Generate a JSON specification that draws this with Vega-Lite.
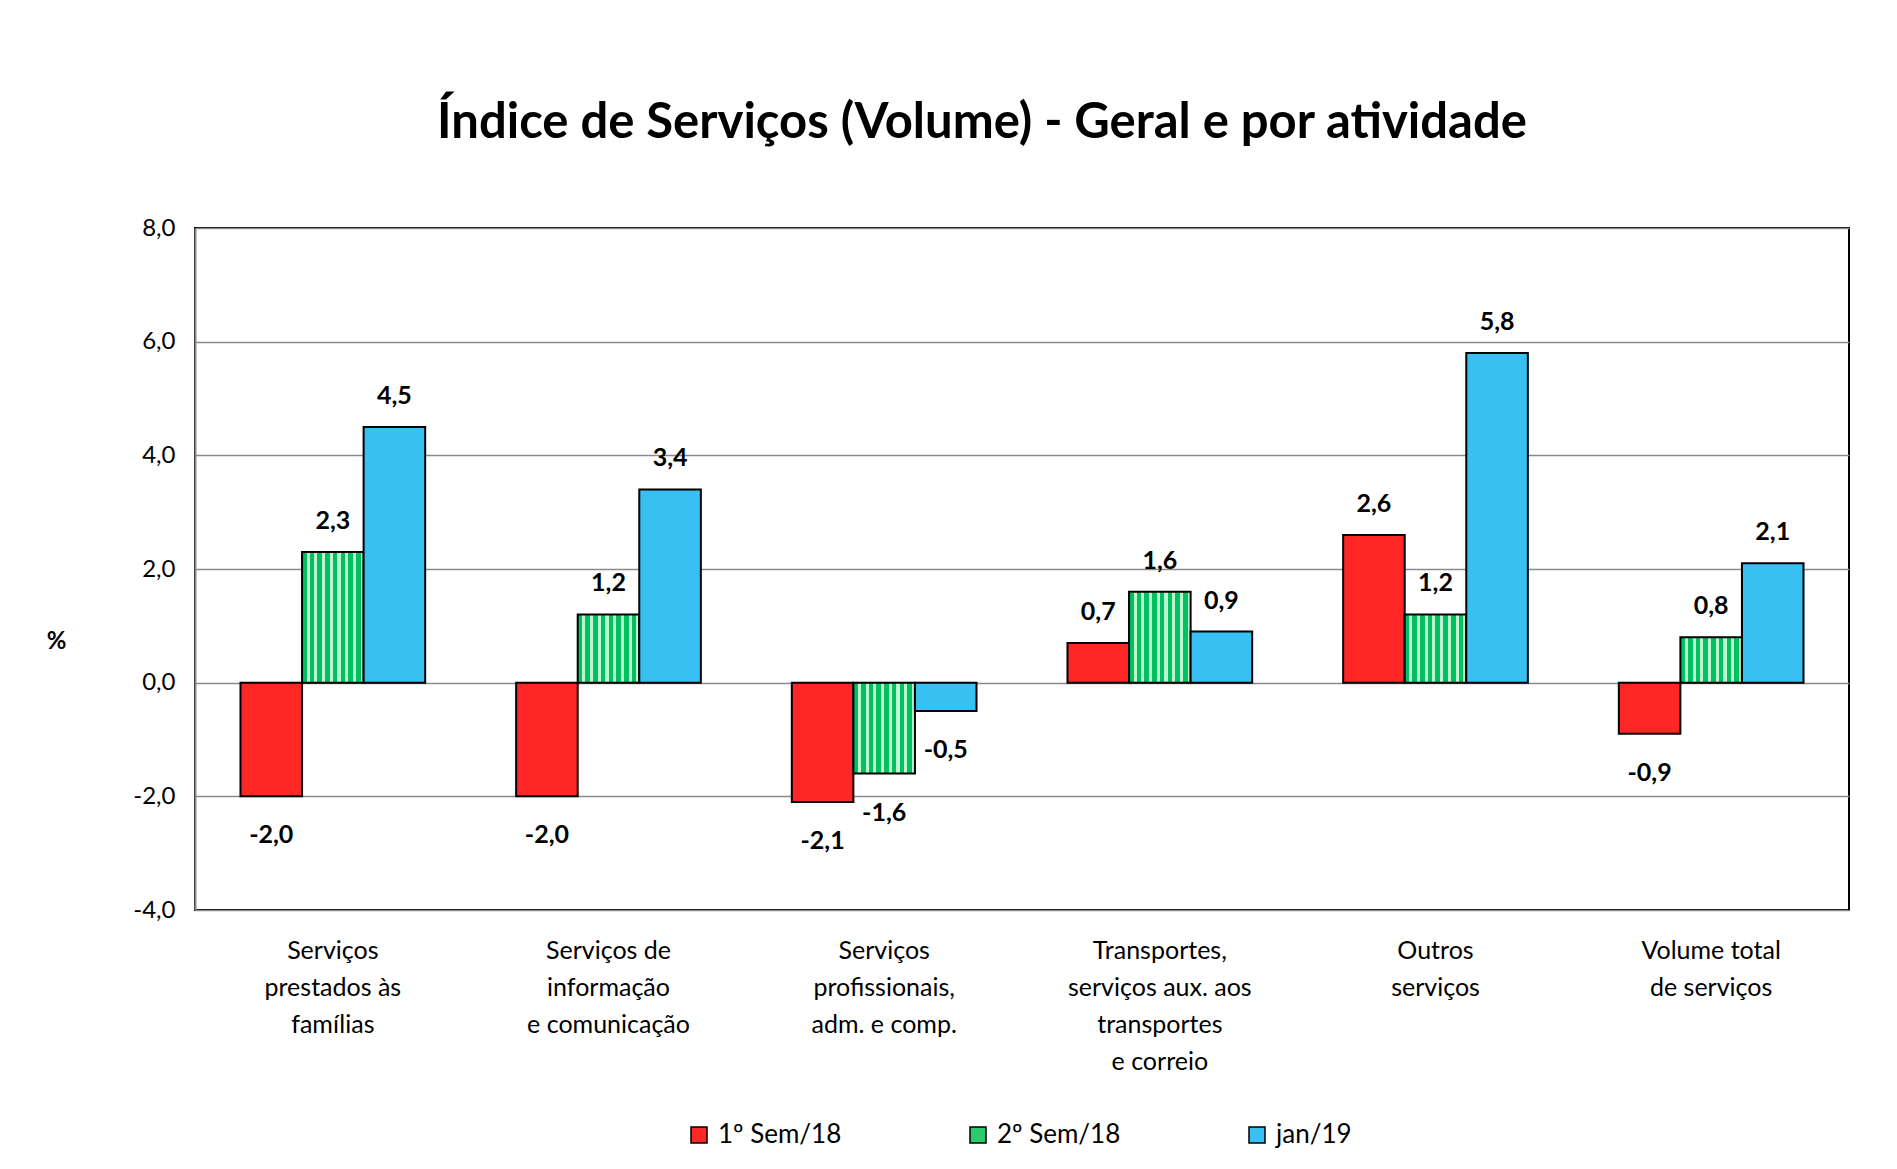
{
  "$schema": "https://vega.github.io/schema/vega-lite/v6.json",
  "width": 1654,
  "height": 682,
  "autosize": {"type": "none"},
  "padding": {"left": 195, "top": 228, "right": 48, "bottom": 259},
  "background": "white",
  "config": {
    "locale": {"number": {"decimal": ",", "thousands": ".", "grouping": [3], "currency": ["R$", ""], "minus": "-"}},
    "view": {"stroke": "black", "strokeWidth": 2},
    "font": "Lato"
  },
  "title": {
    "text": "Índice de Serviços (Volume) - Geral e por atividade",
    "font": "Lato",
    "fontSize": 49,
    "fontWeight": "bold",
    "color": "black",
    "anchor": "middle",
    "dx": -40,
    "offset": 29,
    "baseline": "alphabetic"
  },
  "data": {
    "values": [
      {"cat": "Serviços|prestados às|famílias", "serie": "1º Sem/18", "valor": -2.0},
      {"cat": "Serviços|prestados às|famílias", "serie": "2º Sem/18", "valor": 2.3},
      {"cat": "Serviços|prestados às|famílias", "serie": "jan/19", "valor": 4.5},
      {"cat": "Serviços de|informação|e comunicação", "serie": "1º Sem/18", "valor": -2.0},
      {"cat": "Serviços de|informação|e comunicação", "serie": "2º Sem/18", "valor": 1.2},
      {"cat": "Serviços de|informação|e comunicação", "serie": "jan/19", "valor": 3.4},
      {"cat": "Serviços|profissionais,|adm. e comp.", "serie": "1º Sem/18", "valor": -2.1},
      {"cat": "Serviços|profissionais,|adm. e comp.", "serie": "2º Sem/18", "valor": -1.6},
      {"cat": "Serviços|profissionais,|adm. e comp.", "serie": "jan/19", "valor": -0.5},
      {"cat": "Transportes,|serviços aux. aos|transportes|e correio", "serie": "1º Sem/18", "valor": 0.7},
      {"cat": "Transportes,|serviços aux. aos|transportes|e correio", "serie": "2º Sem/18", "valor": 1.6},
      {"cat": "Transportes,|serviços aux. aos|transportes|e correio", "serie": "jan/19", "valor": 0.9},
      {"cat": "Outros|serviços", "serie": "1º Sem/18", "valor": 2.6},
      {"cat": "Outros|serviços", "serie": "2º Sem/18", "valor": 1.2},
      {"cat": "Outros|serviços", "serie": "jan/19", "valor": 5.8},
      {"cat": "Volume total|de serviços", "serie": "1º Sem/18", "valor": -0.9},
      {"cat": "Volume total|de serviços", "serie": "2º Sem/18", "valor": 0.8},
      {"cat": "Volume total|de serviços", "serie": "jan/19", "valor": 2.1}
    ]
  },
  "encoding": {
    "x": {
      "field": "cat",
      "type": "nominal",
      "sort": null,
      "scale": {"paddingInner": 0.33, "paddingOuter": 0.165},
      "axis": {
        "title": null,
        "labelExpr": "split(datum.label, '|')",
        "labelAngle": 0,
        "domain": false,
        "ticks": false,
        "labelFont": "Lato",
        "labelFontSize": 25,
        "labelColor": "black",
        "labelLineHeight": 37,
        "labelBaseline": "top",
        "labelPadding": 28,
        "labelLimit": 400
      }
    },
    "xOffset": {"field": "serie", "type": "nominal", "sort": ["1º Sem/18", "2º Sem/18", "jan/19"], "scale": {"paddingInner": 0, "paddingOuter": 0}},
    "y": {
      "field": "valor",
      "type": "quantitative",
      "scale": {"domain": [-4, 8], "nice": false, "zero": false},
      "axis": {
        "values": [-4, -2, 0, 2, 4, 6, 8],
        "format": ".1f",
        "grid": true,
        "gridColor": "#8a8a8a",
        "gridWidth": 1.5,
        "domain": true,
        "domainColor": "#8a8a8a",
        "domainWidth": 2,
        "ticks": false,
        "labelPadding": 20,
        "labelFont": "Lato",
        "labelFontSize": 24,
        "labelColor": "black",
        "title": "%",
        "titleAngle": 0,
        "titleX": -139,
        "titleY": 413,
        "titleAlign": "center",
        "titleBaseline": "middle",
        "titleFont": "Lato",
        "titleFontSize": 24,
        "titleFontWeight": "bold",
        "titleColor": "black"
      }
    }
  },
  "layer": [
    {
      "mark": {"type": "bar", "stroke": "black", "strokeWidth": 2, "fillOpacity": 1},
      "encoding": {
        "fill": {
          "field": "serie",
          "type": "nominal",
          "sort": ["1º Sem/18", "2º Sem/18", "jan/19"],
          "scale": {"domain": ["1º Sem/18", "2º Sem/18", "jan/19"], "range": ["#FF2626", "#2BCB6E", "#38C0F2"]},
          "condition": {
            "test": "datum.serie === '2º Sem/18'",
            "value": {
              "gradient": "linear", "x1": 0, "y1": 0, "x2": 1, "y2": 0,
              "stops": [
                {"offset": 0, "color": "#00C060"}, {"offset": 0.075, "color": "#00C060"}, {"offset": 0.075, "color": "#BDF7CF"}, {"offset": 0.125, "color": "#BDF7CF"},
                {"offset": 0.125, "color": "#00C060"}, {"offset": 0.2, "color": "#00C060"}, {"offset": 0.2, "color": "#BDF7CF"}, {"offset": 0.25, "color": "#BDF7CF"},
                {"offset": 0.25, "color": "#00C060"}, {"offset": 0.325, "color": "#00C060"}, {"offset": 0.325, "color": "#BDF7CF"}, {"offset": 0.375, "color": "#BDF7CF"},
                {"offset": 0.375, "color": "#00C060"}, {"offset": 0.45, "color": "#00C060"}, {"offset": 0.45, "color": "#BDF7CF"}, {"offset": 0.5, "color": "#BDF7CF"},
                {"offset": 0.5, "color": "#00C060"}, {"offset": 0.575, "color": "#00C060"}, {"offset": 0.575, "color": "#BDF7CF"}, {"offset": 0.625, "color": "#BDF7CF"},
                {"offset": 0.625, "color": "#00C060"}, {"offset": 0.7, "color": "#00C060"}, {"offset": 0.7, "color": "#BDF7CF"}, {"offset": 0.75, "color": "#BDF7CF"},
                {"offset": 0.75, "color": "#00C060"}, {"offset": 0.825, "color": "#00C060"}, {"offset": 0.825, "color": "#BDF7CF"}, {"offset": 0.875, "color": "#BDF7CF"},
                {"offset": 0.875, "color": "#00C060"}, {"offset": 0.95, "color": "#00C060"}, {"offset": 0.95, "color": "#BDF7CF"}, {"offset": 1, "color": "#BDF7CF"}
              ]
            }
          },
          "legend": {
            "orient": "none",
            "legendX": 491,
            "legendY": 894,
            "direction": "horizontal",
            "title": null,
            "labelFont": "Lato",
            "labelFontSize": 26,
            "labelColor": "black",
            "symbolType": "square",
            "symbolSize": 256,
            "symbolStrokeColor": "black",
            "symbolStrokeWidth": 1.5,
            "columnPadding": 123,
            "labelOffset": 6
          }
        }
      }
    },
    {
      "transform": [{"filter": "datum.valor >= 0"}],
      "mark": {"type": "text", "font": "Lato", "fontSize": 25, "fontWeight": "bold", "color": "black", "baseline": "middle", "dy": -31},
      "encoding": {"text": {"field": "valor", "type": "quantitative", "format": ".1f"}}
    },
    {
      "transform": [{"filter": "datum.valor < 0"}],
      "mark": {"type": "text", "font": "Lato", "fontSize": 25, "fontWeight": "bold", "color": "black", "baseline": "middle", "dy": 39},
      "encoding": {"text": {"field": "valor", "type": "quantitative", "format": ".1f"}}
    }
  ]
}
